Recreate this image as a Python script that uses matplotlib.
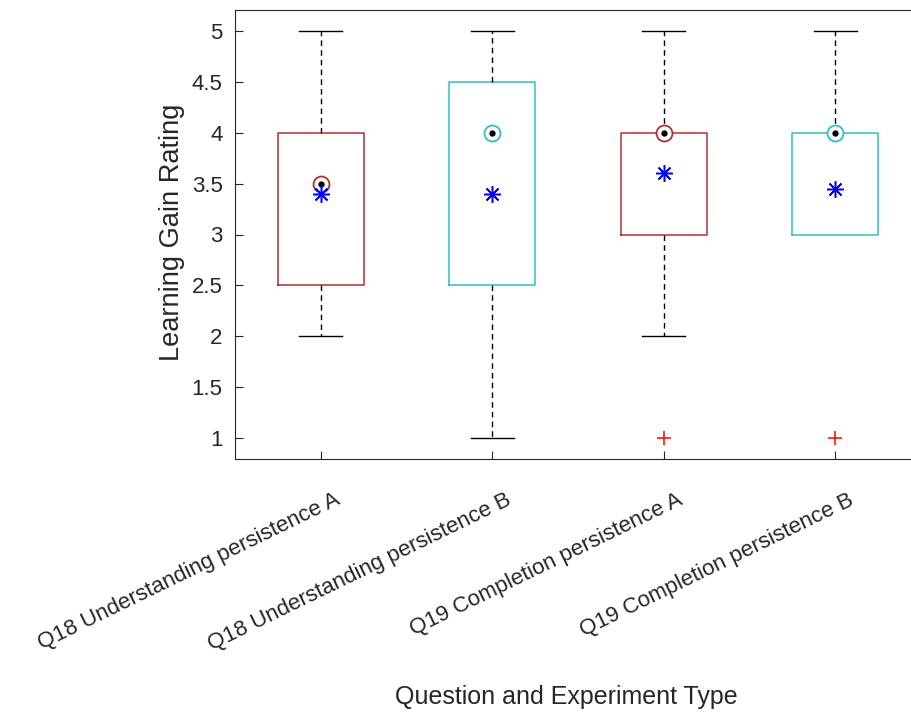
import numpy as np
import matplotlib.pyplot as plt
import matplotlib.transforms as mtransforms

plt.rcParams['font.family'] = ['Liberation Sans', 'DejaVu Sans']

labels = ["Q18 Understanding persistence A", "Q18 Understanding persistence B",
          "Q19 Completion persistence A", "Q19 Completion persistence B"]
q1 = [2.5, 2.5, 3.0, 3.0]
q3 = [4.0, 4.5, 4.0, 4.0]
medians = [3.5, 4.0, 4.0, 4.0]
means = [3.4, 3.4, 3.6, 3.45]
whislo = [2.0, 1.0, 2.0, 3.0]
whishi = [5.0, 5.0, 5.0, 5.0]
outliers = [[], [], [1.0], [1.0]]

box_colors = ["#B03030", "#30C0C0", "#B03030", "#30C0C0"]
txt = "#262626"

stats = []
for i in range(4):
    stats.append(dict(q1=q1[i], q3=q3[i], med=medians[i], mean=means[i],
                      whislo=whislo[i], whishi=whishi[i], fliers=outliers[i]))

fig = plt.figure(figsize=(9.11, 7.12), dpi=100)
ax = fig.add_axes([235/911, 1-459/712, 686/911, 449/712])

pos = np.arange(1, 5)
bp = ax.bxp(stats, positions=pos, widths=0.5, capwidths=0.25, showmeans=False,
            boxprops=dict(linewidth=1.1),
            whiskerprops=dict(color='black', linestyle=(0, (4, 3)), linewidth=1),
            capprops=dict(color='black', linewidth=1),
            medianprops=dict(linewidth=0),
            flierprops=dict(marker='+', markeredgecolor='red', markersize=10,
                            markeredgewidth=1.1, linestyle='none'))
for b, c in zip(bp['boxes'], box_colors):
    b.set_color(c)
# no lower whisker for the last box
bp['caps'][6].set_visible(False)
bp['whiskers'][6].set_visible(False)

for i in range(4):
    ax.plot(pos[i], medians[i], 'o', markersize=11.5, markerfacecolor='white',
            markeredgecolor=box_colors[i], markeredgewidth=1.3, zorder=4)
    ax.plot(pos[i], medians[i], 'o', markersize=3.5, color='black', zorder=5)
    ax.plot(pos[i], means[i], marker=(8, 2, 0), markersize=12, color='blue',
            markeredgewidth=1.1, linestyle='none', zorder=6)

ax.set_xlim(0.5, 4.5)
ax.set_ylim(0.794, 5.206)
ax.set_yticks([1, 1.5, 2, 2.5, 3, 3.5, 4, 4.5, 5])
ax.set_yticklabels(['1', '1.5', '2', '2.5', '3', '3.5', '4', '4.5', '5'])
ax.set_xticks(pos)
ax.set_xticklabels(labels, rotation=26, ha='right', va='top', rotation_mode='anchor')
ax.tick_params(direction='in', length=6, width=0.8, colors=txt, labelsize=16)
ax.tick_params(axis='y', pad=9)
ax.tick_params(axis='x', pad=22)
shift = mtransforms.ScaledTranslation(13/100, 0, fig.dpi_scale_trans)
for lab in ax.get_xticklabels():
    lab.set_transform(lab.get_transform() + shift)
for s in ax.spines.values():
    s.set_color(txt)
    s.set_linewidth(0.8)

ax.set_ylabel("Learning Gain Rating", fontsize=19.6, color=txt)
ax.set_xlabel("Question and Experiment Type", fontsize=18, color=txt)
ax.yaxis.set_label_coords(-0.092, 0.505)
ax.yaxis.label.set_va('center')
ax.xaxis.set_label_coords(0.483, -0.53)
ax.xaxis.label.set_va('center')

fig.savefig("out.png", dpi=100)
